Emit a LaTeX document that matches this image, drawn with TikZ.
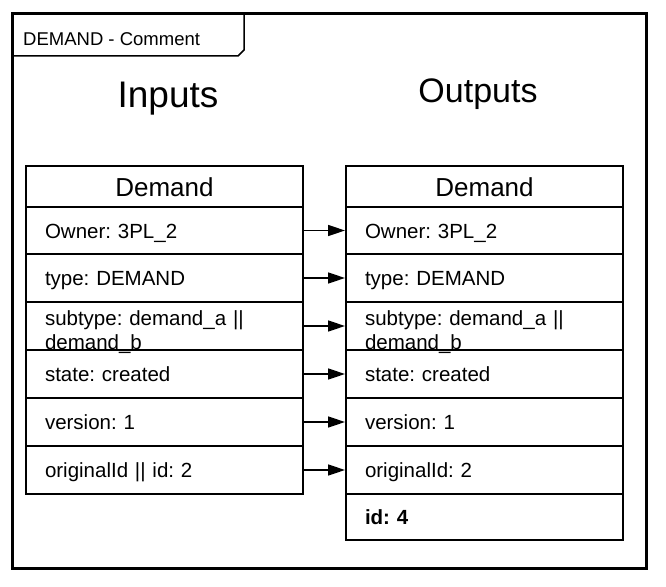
\documentclass[tikz,border=0pt]{standalone}
\usepackage{fontspec}
\setmainfont{Liberation Sans}
\usetikzlibrary{arrows.meta}
\frenchspacing
\begin{document}
\begin{tikzpicture}[x=1pt,y=-1pt,
  rowbox/.style={draw, line width=2pt, anchor=north west, minimum width=277pt,
    text width=239pt, inner xsep=19pt, inner ysep=0pt, text height=15pt,
    text depth=0pt, align=left, font=\fontsize{20.5pt}{24pt}\selectfont},
  headbox/.style={rowbox, align=center, text height=20pt,
    font=\fontsize{26pt}{30pt}\selectfont},
  link/.style={line width=1.6pt, -{Triangle[length=17pt,width=11pt]}}]
\useasboundingbox (0,0) rectangle (666,586);
% frame
\draw[line width=3pt] (12,14) rectangle (646,568);
\draw[line width=1.5pt] (12,56) -- (238,56) -- (244,50) -- (244,14);
\node[anchor=base west, inner sep=0pt, font=\fontsize{18.5pt}{22pt}\selectfont] (title) at (23,46) {DEMAND - Comment};
\node[anchor=base, inner sep=0pt, font=\fontsize{37pt}{40pt}\selectfont] (inputs) at (168,107) {Inputs};
\node[anchor=base, inner sep=0pt, font=\fontsize{34pt}{40pt}\selectfont] (outputs) at (478,102) {Outputs};
% left box
\node[headbox, minimum height=41pt] (hL) at (25,165) {Demand};
\node[rowbox, minimum height=47pt] (oL) at (25,206) {Owner: 3PL\_2};
\node[rowbox, minimum height=48pt] (tL) at (25,253) {type: DEMAND};
\node[rowbox, minimum height=48pt, text depth=16pt] (sL) at (25,301) {subtype: demand\_a ||\\demand\_b};
\node[rowbox, minimum height=48pt] (stL) at (25,349) {state: created};
\node[rowbox, minimum height=48pt] (vL) at (25,397) {version: 1};
\node[rowbox, minimum height=48pt] (iL) at (25,445) {originalId || id: 2};
% right box
\node[headbox, minimum height=41pt] (hR) at (345,165) {Demand};
\node[rowbox, minimum height=47pt] (oR) at (345,206) {Owner: 3PL\_2};
\node[rowbox, minimum height=48pt] (tR) at (345,253) {type: DEMAND};
\node[rowbox, minimum height=48pt, text depth=16pt] (sR) at (345,301) {subtype: demand\_a ||\\demand\_b};
\node[rowbox, minimum height=48pt] (stR) at (345,349) {state: created};
\node[rowbox, minimum height=48pt] (vR) at (345,397) {version: 1};
\node[rowbox, minimum height=48pt] (iR) at (345,445) {originalId: 2};
\node[rowbox, minimum height=46pt, font=\fontsize{20.5pt}{24pt}\selectfont\bfseries] (idR) at (345,493) {id: 4};
% connectors
\draw[link] (oL.east) -- (oR.west);
\draw[link] (tL.east) -- (tR.west);
\draw[link] (sL.east) -- (sR.west);
\draw[link] (stL.east) -- (stR.west);
\draw[link] (vL.east) -- (vR.west);
\draw[link] (iL.east) -- (iR.west);
\end{tikzpicture}
\end{document}
